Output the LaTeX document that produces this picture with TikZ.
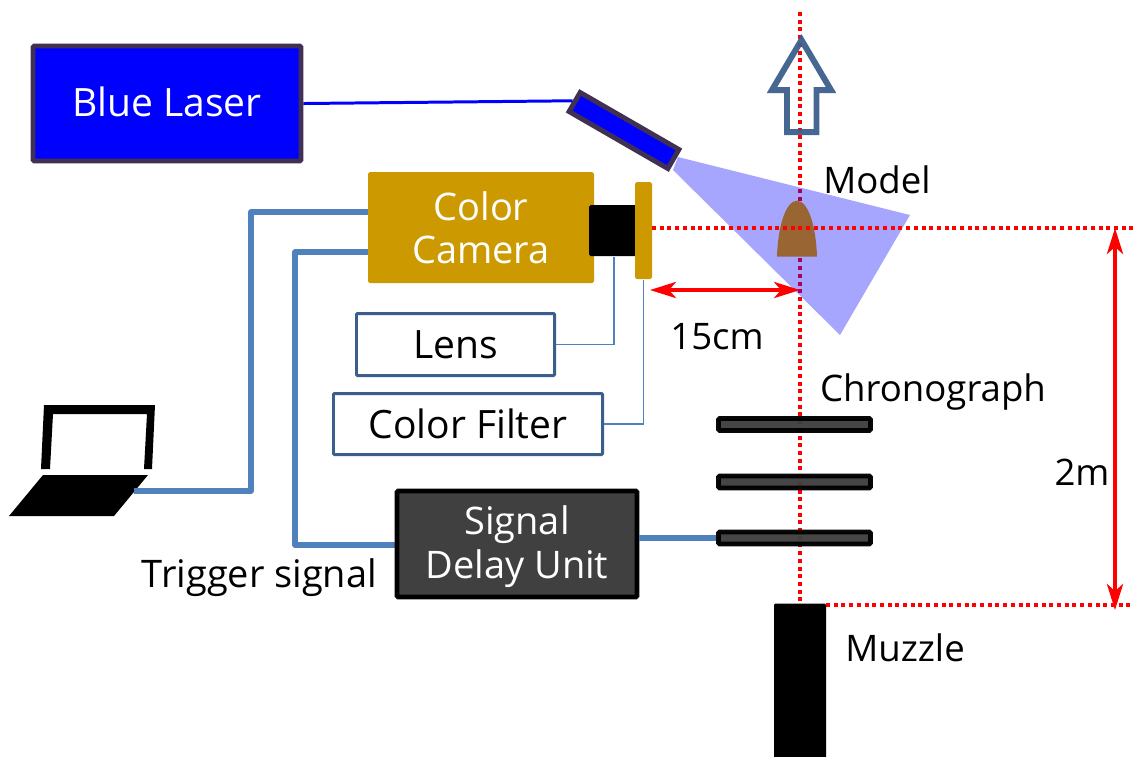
\documentclass[tikz,border=0pt]{standalone}
\usepackage{fontspec}
\setmainfont{Open Sans}
\usepackage{xcolor}
\usetikzlibrary{arrows.meta,positioning,calc}
\definecolor{wireblue}{HTML}{4F81BD}
\definecolor{edgeblue}{HTML}{3B5F8C}
\definecolor{gold}{HTML}{CC9900}
\definecolor{plum}{HTML}{403152}
\definecolor{brownmodel}{HTML}{996633}
\definecolor{darkbox}{HTML}{404040}
\tikzset{
  lab/.style={font=\fontsize{10.4}{12.6}\selectfont,align=center,inner sep=0pt},
  labbig/.style={font=\fontsize{11.1}{12.6}\selectfont,align=center,inner sep=0pt},
  labmid/.style={font=\fontsize{10.8}{12.2}\selectfont,align=center,inner sep=0pt},
  wire/.style={wireblue,line width=1.55pt,line join=round},
  thinwire/.style={wireblue,line width=0.5pt},
  redline/.style={red,line width=1.15pt,dash pattern=on 1.14pt off 1.05pt},
  redarrow/.style={red,line width=0.95pt,{Stealth[length=7.4pt,width=4.6pt,inset=2pt]}-{Stealth[length=7.4pt,width=4.6pt,inset=2pt]}},
  plate/.style={draw=black,fill=darkbox,line width=1.4pt,rounded corners=0.4pt,minimum width=152*\px,minimum height=12*\px,inner sep=0pt,opacity=.97},
  whitebox/.style={labbig,draw=edgeblue,fill=white,line width=0.85pt,rounded corners=0.3pt},
}
\def\px{0.01cm}
\begin{document}
\begin{tikzpicture}[x=0.01cm,y=-0.01cm]
\useasboundingbox (0,0) rectangle (1133,756);
% center line and beam
\coordinate (lineTop) at (800,12);
\coordinate (lineEnd) at (800,603);
\draw[redline] (lineTop)--(lineEnd);
\fill[blue,opacity=.35] (678,157)--(910,215)--(840,335)--(673,170)--cycle;
\draw[edgeblue,line width=1.7pt,miter limit=10,opacity=.95] (801.5,40)--(831,90)--(816.5,90)--(816.5,132)--(787,132)--(787,90)--(772,90)--cycle;
\fill[brownmodel] (777,256.7) .. controls (778,225) and (786,201) .. (797,200.7) .. controls (808,201) and (816,225) .. (817,256.7)--cycle;
% laser
\node[labbig,text=white,draw=plum,fill=blue,line width=1.4pt,rounded corners=0.4pt,minimum width=268*\px,minimum height=115*\px] (laser) at (167,103.5){\raisebox{1pt}{Blue Laser}};
\node[draw=plum,fill=blue,line width=1.4pt,rotate=-30,minimum width=114*\px,minimum height=22*\px,inner sep=0pt] (head) at (624,130.5){};
\draw[blue,line width=0.85pt] (laser.east)--(head.west);
% camera
\node[labmid,text=white,fill=gold,rounded corners=0.5pt,minimum width=226*\px,minimum height=111*\px] (camera) at (481,227.5){Color\\Camera};
\node[fill=black,rounded corners=0.5pt,minimum width=50*\px,minimum height=51*\px,inner sep=0pt] (lens) at (614,230.5){};
\node[fill=gold,rounded corners=0.5pt,minimum width=17*\px,minimum height=97*\px,inner sep=0pt] (filter) at (643.5,230.5){};
\node[whitebox,minimum width=198*\px,minimum height=62*\px] (lensbox) at (455.5,344.5){Lens};
\node[whitebox,minimum width=269*\px,minimum height=61*\px] (filterbox) at (468,424){Color Filter};
\draw[thinwire] (lens.south)|-(lensbox.east);
\draw[thinwire] (filter.south)|-(filterbox.east);
% laptop
\fill[black,even odd rule] (44,405)--(155,405)--(152,469)--(144,469)--(147,414)--(53,414)--(50,469)--(41,469)--cycle;
\fill[black] (43,475)--(148,475)--(114,516)--(9,516)--cycle;
\coordinate (pc) at (134,491);
\coordinate (camA) at (368,212);
\coordinate (camB) at (368,252);
\coordinate (delayA) at (397,545);
\draw[wire] (pc)-|(251,212)--(camA);
\draw[wire] (delayA)-|(295,252)--(camB);
% delay unit and plates
\node[labmid,text=white,draw=black,fill=darkbox,line width=1.4pt,rounded corners=0.4pt,minimum width=240*\px,minimum height=106*\px] (delay) at (517,544){\raisebox{-3.9pt}[0pt][0pt]{\begin{tabular}{@{}c@{}}Signal\\[0.4pt]Delay Unit\end{tabular}}};
\node[plate] (plateA) at (794.5,424.5){};
\node[plate] (plateB) at (794.5,482){};
\node[plate] (plateC) at (794.5,538){};
\draw[wire] (plateC.west-|delay.east)--(plateC.west);
% muzzle
\node[fill=black,rounded corners=0.3pt,minimum width=52*\px,minimum height=160*\px,inner sep=0pt,anchor=north] (muzzle) at (800,603){};
% distances
\coordinate (modelLeft) at (652,228);
\coordinate (modelRight) at (1133,228);
\coordinate (muzRight) at (826,605);
\coordinate (muzEnd) at (1133,605);
\draw[redline] (modelLeft)--(modelRight);
\draw[redline] (muzRight)--(muzEnd);
\coordinate (dimA) at (650,290);
\coordinate (dimB) at (800,290);
\coordinate (dimC) at (1115,228);
\coordinate (dimD) at (1115,610);
\draw[redarrow] (dimA)--(dimB);
\draw[redarrow] (dimC)--(dimD);
% labels
\node[lab] (lblModel) at (877,180){Model};
\node[lab] (lblDist) at (717,337){15cm};
\node[lab] (lblChrono) at (933,392){Chronograph};
\node[lab] (lblTwo) at (1082,472){2m};
\node[lab] (lblMuzzle) at (905,648){Muzzle};
\node[labmid] (lblTrigger) at (259.5,578){Trigger signal};
\end{tikzpicture}
\end{document}
